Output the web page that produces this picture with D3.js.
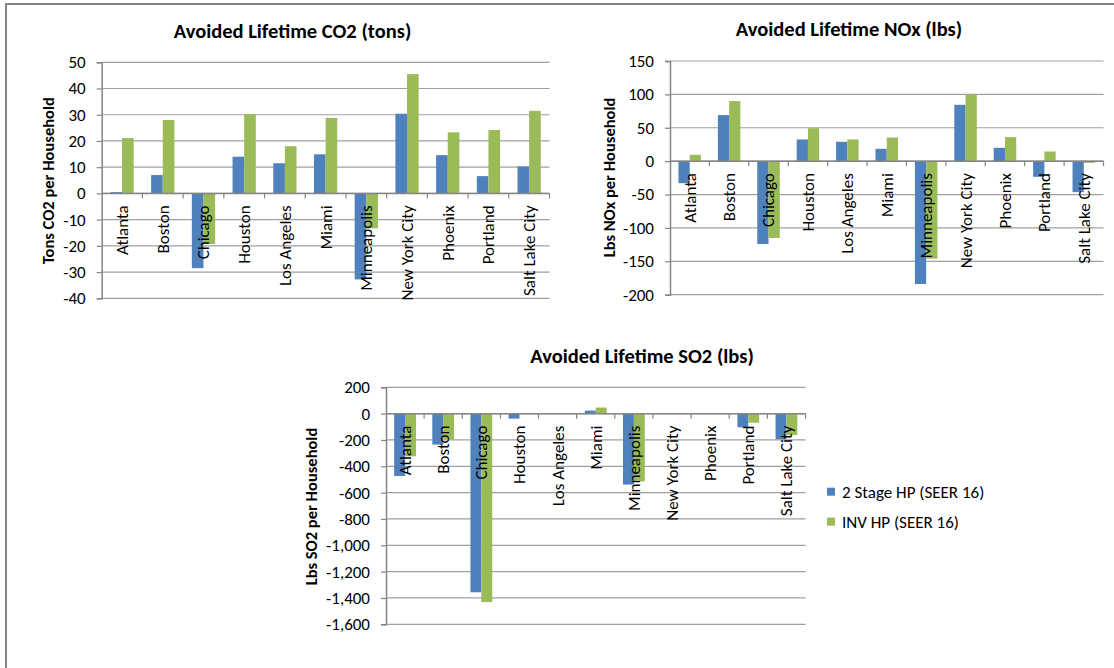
<!DOCTYPE html>
<html>
<head>
<meta charset="utf-8">
<script src="https://cdn.jsdelivr.net/npm/d3@7"></script>
<style>
  html, body { margin: 0; padding: 0; background: #fff; overflow: hidden; }
  svg { display: block; }
  text { font-family: Carlito, Lato, "Liberation Sans", sans-serif; fill: #000; }
</style>
</head>
<body>
<svg id="chart" width="1114" height="668"></svg>
<script>
// ---------- DATA ----------
const categories = ["Atlanta", "Boston", "Chicago", "Houston", "Los Angeles", "Miami",
  "Minneapolis", "New York City", "Phoenix", "Portland", "Salt Lake City"];
const seriesNames = ["2 Stage HP (SEER 16)", "INV HP (SEER 16)"];
const seriesColors = ["#4F81BD", "#9BBB59"];

const co2Stage2 = [0.5, 7.0, -28.5, 14.0, 11.5, 14.9, -32.8, 30.4, 14.6, 6.6, 10.3];
const co2Inv    = [21.1, 28.0, -19.3, 30.3, 18.0, 28.8, -13.3, 45.5, 23.3, 24.2, 31.5];
const noxStage2 = [-33, 69, -124, 32.5, 29, 18.5, -184, 84.4, 20, -23.5, -46.4];
const noxInv    = [9.5, 90, -115, 49.4, 32.5, 35.4, -146, 100, 36, 14.5, -2.5];
const so2Stage2 = [-474, -235, -1357, -38, 0, 23, -539, 0, 0, -104, -195];
const so2Inv    = [-324, -195, -1431, 0, 0, 46, -514, 0, 0, -69, -162];

const co2Ticks = [50, 40, 30, 20, 10, 0, -10, -20, -30, -40];
const noxTicks = [150, 100, 50, 0, -50, -100, -150, -200];
const so2Ticks = [200, 0, -200, -400, -600, -800, -1000, -1200, -1400, -1600];

const titles = ["Avoided Lifetime CO2 (tons)", "Avoided Lifetime NOx (lbs)", "Avoided Lifetime SO2 (lbs)"];
const yTitles = ["Tons CO2 per Household", "Lbs NOx per Household", "Lbs SO2 per Household"];

// ---------- SETUP ----------
const svg = d3.select("#chart");
const fmt = d3.formatLocale({decimal: ".", thousands: ",", grouping: [3], currency: ["$", ""], minus: "-"}).format(",");

// outer frame (clipped at right/bottom)
svg.append("rect").attr("x", 6).attr("y", 4).attr("width", 1200).attr("height", 800)
  .attr("fill", "none").attr("stroke", "#858585").attr("stroke-width", 2);

function drawChart(cfg) {
  const g = svg.append("g");
  const x0 = d3.scaleBand().domain(categories).range([cfg.left, cfg.right]).paddingInner(0).paddingOuter(0);
  const x1 = d3.scaleBand().domain(seriesNames).range([0, x0.bandwidth()]).paddingInner(0).paddingOuter(0.75);
  const y = d3.scaleLinear().domain([d3.min(cfg.ticks), d3.max(cfg.ticks)]).range([cfg.bottom, cfg.top]);

  // gridlines
  g.append("g").selectAll("line").data(cfg.ticks).join("line")
    .attr("x1", cfg.left).attr("x2", cfg.right)
    .attr("y1", d => y(d)).attr("y2", d => y(d))
    .attr("stroke", "#a0a0a0").attr("stroke-width", 1.2);

  // bars
  const data = categories.map((c, i) => ({cat: c, vals: [cfg.s1[i], cfg.s2[i]]}));
  const cg = g.append("g").selectAll("g").data(data).join("g")
    .attr("transform", d => `translate(${x0(d.cat)},0)`);
  cg.selectAll("rect").data(d => d.vals.map((v, k) => ({v, k})))
    .join("rect")
    .attr("x", d => x1(seriesNames[d.k]))
    .attr("width", x1.bandwidth())
    .attr("y", d => y(Math.max(0, d.v)))
    .attr("height", d => Math.abs(y(d.v) - y(0)))
    .attr("fill", d => seriesColors[d.k]);

  // y axis
  const ya = d3.axisLeft(y).tickValues(cfg.ticks).tickSize(5).tickPadding(11).tickFormat(fmt);
  const yg = g.append("g").attr("transform", `translate(${cfg.left},0)`).call(ya);
  yg.select(".domain").attr("stroke", "#858585").attr("stroke-width", 1.5);
  yg.selectAll(".tick line").attr("stroke", "#858585").attr("stroke-width", 1.2);
  yg.selectAll(".tick text").style("font-size", "17px").attr("fill", "#000");

  // x axis (at zero) with ticks at category boundaries
  const zeroY = y(0);
  g.append("line").attr("x1", cfg.left).attr("x2", cfg.right).attr("y1", zeroY).attr("y2", zeroY)
    .attr("stroke", "#858585").attr("stroke-width", 1.5);
  const bounds = categories.map(c => x0(c)).concat([cfg.right]).slice(1);
  g.append("g").selectAll("line").data(bounds).join("line")
    .attr("x1", d => d).attr("x2", d => d).attr("y1", zeroY).attr("y2", zeroY + 5)
    .attr("stroke", "#858585").attr("stroke-width", 1.2);

  // category labels
  g.append("g").selectAll("text").data(categories).join("text")
    .attr("transform", d => `translate(${x0(d) + x0.bandwidth() / 2},${zeroY + 12}) rotate(-90)`)
    .attr("text-anchor", "end").attr("dy", "0.35em")
    .style("font-size", "17px")
    .text(d => d);

  // title
  g.append("text").attr("x", cfg.titleX).attr("y", cfg.titleY).attr("text-anchor", "middle")
    .style("font-size", "20.5px").style("font-weight", "bold").text(cfg.title);
  // y title
  g.append("text").attr("transform", `translate(${cfg.yTitleX},${cfg.yTitleY}) rotate(-90)`)
    .attr("text-anchor", "middle").attr("dy", "0.35em")
    .style("font-size", "16.5px").style("font-weight", "bold").text(cfg.yTitle);
}

drawChart({left: 101.7, right: 549.5, top: 62.3, bottom: 298.3, ticks: co2Ticks,
  s1: co2Stage2, s2: co2Inv, title: titles[0], titleX: 292.5, titleY: 38,
  yTitle: yTitles[0], yTitleX: 48, yTitleY: 180.7});
drawChart({left: 670, right: 1103.5, top: 61, bottom: 294.7, ticks: noxTicks,
  s1: noxStage2, s2: noxInv, title: titles[1], titleX: 849, titleY: 36,
  yTitle: yTitles[1], yTitleX: 609, yTitleY: 177.5});
drawChart({left: 386, right: 805.5, top: 387.3, bottom: 624.3, ticks: so2Ticks,
  s1: so2Stage2, s2: so2Inv, title: titles[2], titleX: 642, titleY: 363,
  yTitle: yTitles[2], yTitleX: 311, yTitleY: 506.5});

// legend
const lg = svg.append("g").selectAll("g").data(seriesNames).join("g")
  .attr("transform", (d, i) => `translate(827,${491.7 + i * 30})`);
lg.append("rect").attr("x", 0).attr("y", -4).attr("width", 8).attr("height", 8)
  .attr("fill", (d, i) => seriesColors[i]);
lg.append("text").attr("x", 15).attr("dy", "0.35em").style("font-size", "17px").text(d => d);
</script>
</body>
</html>
